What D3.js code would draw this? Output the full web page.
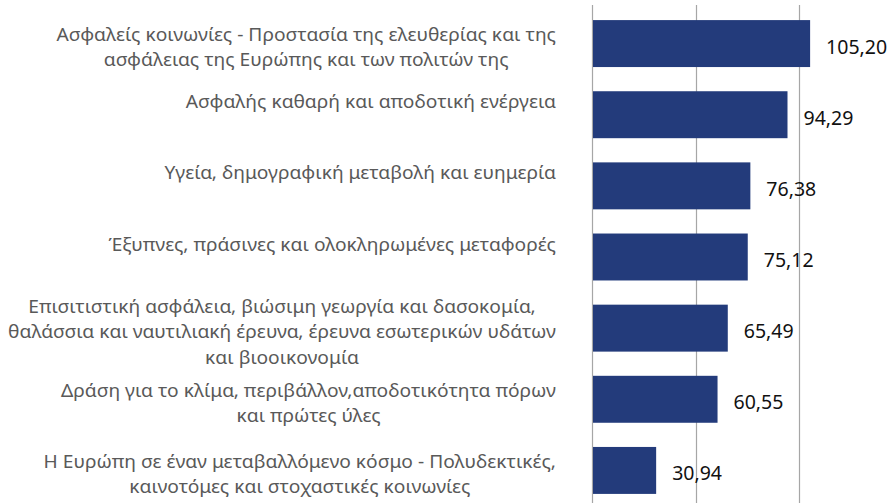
<!DOCTYPE html>
<html>
<head>
<meta charset="utf-8">
<script src="https://cdn.jsdelivr.net/npm/d3@7"></script>
<style>
  body { margin: 0; background: #fff; }
  svg { display: block; }
</style>
</head>
<body>
<svg id="chart"></svg>
<script>
const categories = [
    ["Ασφαλείς κοινωνίες - Προστασία της ελευθερίας και της", "ασφάλειας της Ευρώπης και των πολιτών της"],
    ["Ασφαλής καθαρή και αποδοτική ενέργεια"],
    ["Υγεία, δημογραφική μεταβολή και ευημερία"],
    ["Έξυπνες, πράσινες και ολοκληρωμένες μεταφορές"],
    ["Επισιτιστική ασφάλεια, βιώσιμη γεωργία και δασοκομία,", "θαλάσσια και ναυτιλιακή έρευνα, έρευνα εσωτερικών υδάτων", "και βιοοικονομία"],
    ["Δράση για το κλίμα, περιβάλλον,αποδοτικότητα πόρων", "και πρώτες ύλες"],
    ["Η Ευρώπη σε έναν μεταβαλλόμενο κόσμο - Πολυδεκτικές,", "καινοτόμες και στοχαστικές κοινωνίες"]
];
const values = [105.20, 94.29, 76.38, 75.12, 65.49, 60.55, 30.94];
const gridTicks = [0, 50, 100, 150];

const w = 889;
const h = 503;
const labelRight = 556;
const lineH = 25.5;
const fontFamily = "'Noto Sans', 'Open Sans', sans-serif";

const svg = d3.select("#chart")
    .attr("width", w)
    .attr("height", h);

const xScale = d3.scaleLinear()
    .domain([0, 150])
    .range([592, 903]);

const yScale = d3.scaleBand()
    .domain(d3.range(values.length))
    .range([8, 506])
    .paddingInner(0.34)
    .paddingOuter(0.17);

const formatValue = v => d3.format(".2f")(v).replace(".", ",");

// gridlines
svg.selectAll("line.grid")
    .data(gridTicks)
    .enter()
    .append("line")
    .attr("class", "grid")
    .attr("x1", d => Math.round(xScale(d)) + 0.5)
    .attr("x2", d => Math.round(xScale(d)) + 0.5)
    .attr("y1", 5)
    .attr("y2", h)
    .attr("stroke", "#a6a6a6")
    .attr("stroke-width", 1.2);

svg.selectAll("rect")
    .data(values)
    .enter()
    .append("rect")
    .attr("x", xScale(0) + 1)
    .attr("y", (d, i) => yScale(i))
    .attr("width", d => xScale(d) - xScale(0) - 1)
    .attr("height", yScale.bandwidth())
    .attr("fill", "#233b7b");

svg.selectAll("text.value")
    .data(values)
    .enter()
    .append("text")
    .attr("class", "value")
    .attr("x", d => xScale(d) + 16)
    .attr("y", (d, i) => yScale(i) + yScale.bandwidth() / 2 + 10)
    .attr("font-family", fontFamily)
    .attr("font-size", 19.5)
    .attr("fill", "#111")
    .text(d => formatValue(d));

// category labels: block right-aligned, lines centred inside the block
const labels = svg.selectAll("g.cat")
    .data(categories)
    .enter()
    .append("g")
    .attr("class", "cat");

labels.each(function (lines, i) {
    const g = d3.select(this);
    const cy = yScale(i) + yScale.bandwidth() / 2;
    const n = lines.length;
    const y0 = n === 1 ? yScale(i) + 17 : cy - (n - 1) * lineH / 2 + 10;
    g.selectAll("text")
        .data(lines)
        .enter()
        .append("text")
        .attr("data-y", (d, j) => y0 + j * lineH)
        .attr("font-family", fontFamily)
        .attr("font-size", 19)
        .attr("fill", "#595959")
        .attr("text-anchor", "middle")
        .text(d => d);
});

// squeeze horizontally so the widest line spans the same width as the original
let widest = 0;
svg.selectAll("g.cat text").each(function () {
    widest = Math.max(widest, this.getComputedTextLength());
});
const sx = 548 / widest;

labels.each(function () {
    let bw = 0;
    const texts = d3.select(this).selectAll("text");
    texts.each(function () {
        bw = Math.max(bw, this.getComputedTextLength() * sx);
    });
    texts.attr("transform", function () {
        const y = +this.getAttribute("data-y");
        return `translate(${labelRight - bw / 2},${y}) scale(${sx},1)`;
    });
});
</script>
</body>
</html>
